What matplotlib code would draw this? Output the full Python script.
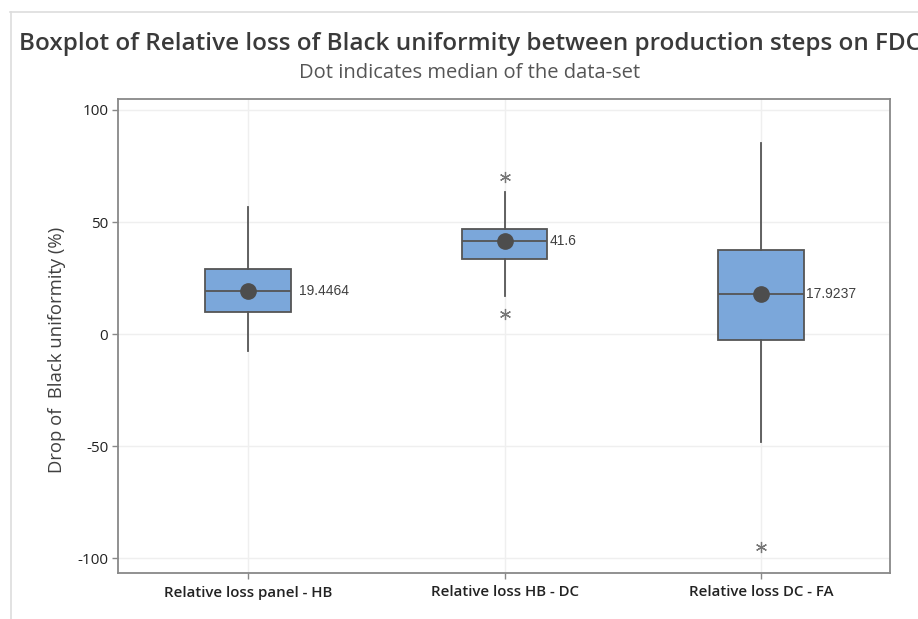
import matplotlib
matplotlib.use("Agg")
import matplotlib.pyplot as plt
from matplotlib.lines import Line2D

plt.rcParams['font.family'] = ['Open Sans', 'DejaVu Sans']

# Summary statistics of each production-step comparison
categories = ["Relative loss panel - HB", "Relative loss HB - DC", "Relative loss DC - FA"]
medians = [19.4464, 41.6, 17.9237]
q1 = [10.0, 33.7, -2.8]
q3 = [29.2, 46.9, 37.4]
whisker_low = [-7.5, 17.0, -48.2]
whisker_high = [56.8, 63.4, 85.3]
outliers = [[], [70.1, 8.9], [-95.1]]
y_ticks = [100, 50, 0, -50, -100]

fig = plt.figure(figsize=(9.18, 6.19), dpi=100)
ax = fig.add_axes([118 / 918, 1 - 573 / 619, (890 - 118) / 918, (573 - 99) / 619])

positions = [1, 2, 3]
stats = []
for i in range(len(categories)):
    stats.append(dict(med=medians[i], q1=q1[i], q3=q3[i],
                      whislo=whisker_low[i], whishi=whisker_high[i],
                      fliers=outliers[i], label=categories[i]))

edge = "#555555"
ax.bxp(stats, positions=positions, widths=0.335, patch_artist=True,
       showcaps=False, showfliers=True,
       boxprops=dict(facecolor="#7ba7da", edgecolor=edge, linewidth=1.3),
       medianprops=dict(color=edge, linewidth=1.3),
       whiskerprops=dict(color=edge, linewidth=1.3),
       flierprops=dict(marker=(6, 2, 0), markersize=8, markeredgecolor="#777777",
                       markeredgewidth=0.9, linestyle="none"),
       zorder=3)

# Median dots and their value labels
ax.plot(positions, medians, linestyle="none", marker="o", markersize=11,
        color="#4d4d4d", zorder=5)
label_offsets = [0.2, 0.175, 0.175]
for p, m, off in zip(positions, medians, label_offsets):
    ax.text(p + off, m, f"{m:g}", ha="left", va="center", fontsize=10,
            color="#404040", family=["Liberation Sans", "DejaVu Sans"], zorder=6)

ax.set_xlim(0.493, 3.503)
ax.set_ylim(-106.6, 104.9)
ax.set_yticks(y_ticks)
ax.set_yticklabels([str(t) for t in y_ticks], fontsize=11, color="#222222")
ax.set_xticks(positions)
ax.set_xticklabels(categories, fontsize=10.8, fontweight="semibold", color="#222222")

ax.grid(True, color="#efefef", linewidth=1.0, zorder=0)
ax.set_axisbelow(True)
for s in ax.spines.values():
    s.set_color("#888888")
    s.set_linewidth(1.3)
ax.tick_params(axis="both", direction="out", length=4, width=1.0, color="#888888", pad=3)
ax.tick_params(axis="x", pad=5)

fig.text(57 / 918, 1 - 350 / 619, "Drop of  Black uniformity (%)", rotation=90,
         ha="center", va="center", fontsize=13.3, color="#404040")

fig.text(470 / 918, 1 - 44 / 619,
         "Boxplot of Relative loss of Black uniformity between production steps on FDC",
         ha="center", va="center", fontsize=17.5, fontweight="semibold", color="#3a3a3a")
fig.text(470 / 918, 1 - 73 / 619, "Dot indicates median of the data-set",
         ha="center", va="center", fontsize=14.5, color="#555555")

# Thin frame lines along the top and left edges
fig.add_artist(Line2D([10 / 918, 1], [1 - 12 / 619, 1 - 12 / 619], color="#dddddd", linewidth=1.2))
fig.add_artist(Line2D([11 / 918, 11 / 918], [0, 1 - 12 / 619], color="#dddddd", linewidth=1.2))

fig.savefig("out.png", dpi=100)
